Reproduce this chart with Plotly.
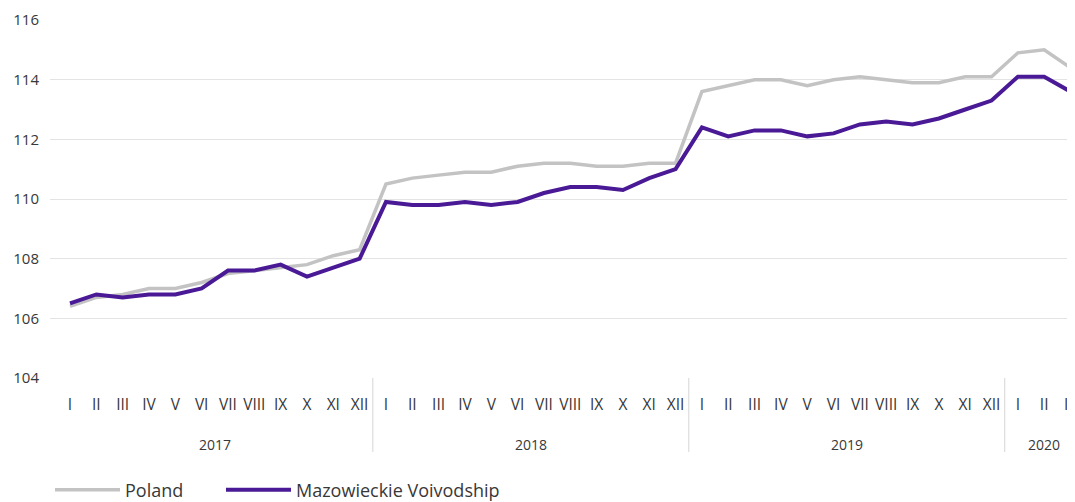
import plotly.graph_objects as go

months = ["I", "II", "III", "IV", "V", "VI", "VII", "VIII", "IX", "X", "XI", "XII"]
years = ["2017", "2018", "2019", "2020"]
months_per_year = [12, 12, 12, 3]
series_names = ["Poland", "Mazowieckie Voivodship"]

poland = [
    106.4, 106.7, 106.8, 107.0, 107.0, 107.2, 107.5, 107.6, 107.7, 107.8, 108.1, 108.3,
    110.5, 110.7, 110.8, 110.9, 110.9, 111.1, 111.2, 111.2, 111.1, 111.1, 111.2, 111.2,
    113.6, 113.8, 114.0, 114.0, 113.8, 114.0, 114.1, 114.0, 113.9, 113.9, 114.1, 114.1,
    114.9, 115.0, 114.4,
]
mazowieckie = [
    106.5, 106.8, 106.7, 106.8, 106.8, 107.0, 107.6, 107.6, 107.8, 107.4, 107.7, 108.0,
    109.9, 109.8, 109.8, 109.9, 109.8, 109.9, 110.2, 110.4, 110.4, 110.3, 110.7, 111.0,
    112.4, 112.1, 112.3, 112.3, 112.1, 112.2, 112.5, 112.6, 112.5, 112.7, 113.0, 113.3,
    114.1, 114.1, 113.6,
]
y_ticks = [104, 106, 108, 110, 112, 114, 116]

tick_text = []
for n in months_per_year:
    tick_text += months[:n]
x = list(range(len(tick_text)))

FONT = "Open Sans, Noto Sans, sans-serif"
TXT = "#383838"
PAD = "\u00a0" * 7  # spacing between legend entries

fig = go.Figure()
fig.add_trace(go.Scatter(x=x, y=poland, mode="lines", name=series_names[0] + PAD,
                         line=dict(color="#c3c3c3", width=3.5)))
fig.add_trace(go.Scatter(x=x, y=mazowieckie, mode="lines", name=series_names[1],
                         line=dict(color="#4a1a96", width=4)))

# year separators and labels
start = 0
for i, (yr, n) in enumerate(zip(years, months_per_year)):
    center = start + (n - 1) / 2
    fig.add_annotation(x=center, y=-0.187, xref="x", yref="paper", text=yr,
                       xanchor="center", yanchor="middle",
                       showarrow=False, font=dict(size=14, color=TXT, family=FONT))
    end = start + n
    if i < len(years) - 1:
        fig.add_shape(type="line", x0=end - 0.5, x1=end - 0.5, y0=0, y1=-0.207,
                      xref="x", yref="paper", line=dict(color="#dcdcdc", width=1.2))
    start = end

fig.update_layout(
    width=1067, height=494,
    margin=dict(l=42, r=0, t=12, b=124, autoexpand=False),
    paper_bgcolor="white", plot_bgcolor="white",
    font=dict(family=FONT, color=TXT, size=14),
    showlegend=True,
    legend=dict(orientation="h", x=0.0, xanchor="left", y=-0.313, yanchor="middle",
                font=dict(size=18, color=TXT, family=FONT),
                itemwidth=65, traceorder="normal"),
)
fig.update_xaxes(range=[-0.76, 38.17], tickvals=x, ticktext=tick_text, tickangle=0,
                 automargin=False, ticklabeloverflow="allow",
                 showgrid=False, zeroline=False, showline=False, ticks="",
                 tickfont=dict(size=15.5, color=TXT), ticklabelstandoff=15, fixedrange=True)
fig.update_yaxes(range=[104, 116], tickvals=y_ticks, showgrid=True, automargin=False,
                 gridcolor="#e3e3e3", gridwidth=1.2, zeroline=False, showline=False,
                 ticks="", tickfont=dict(size=15, color=TXT), ticklabelstandoff=10,
                 fixedrange=True)

fig.write_html("out.html")
